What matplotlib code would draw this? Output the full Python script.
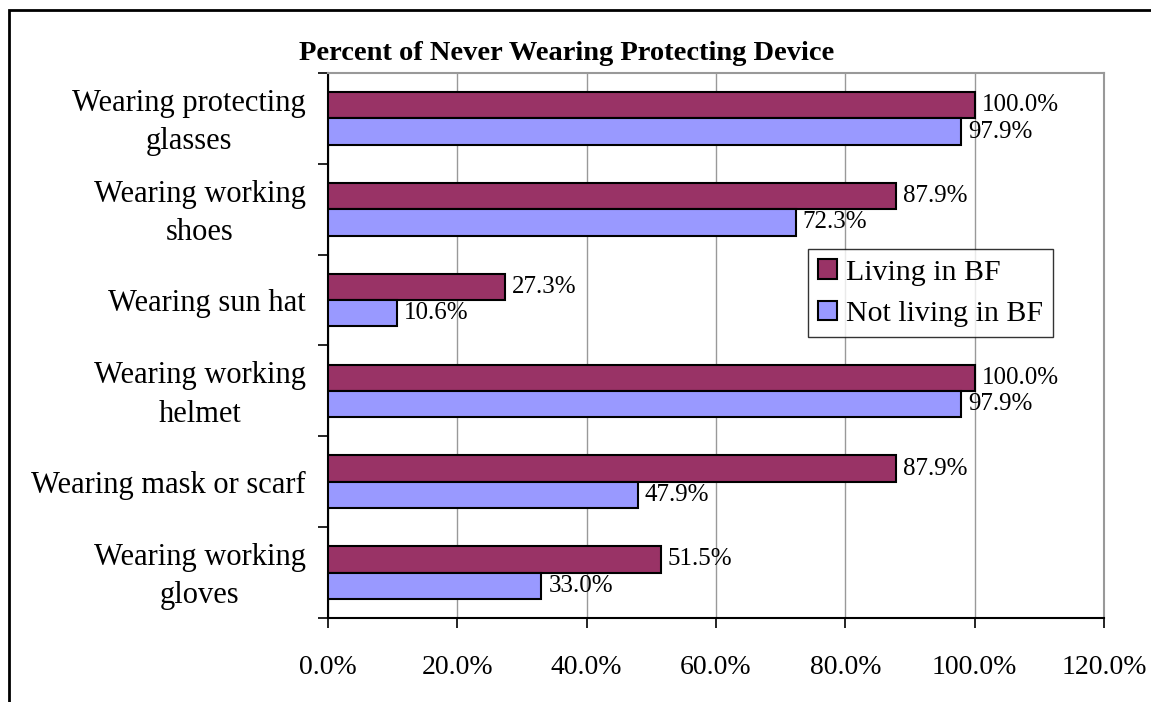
import numpy as np
import matplotlib
matplotlib.use("Agg")
import matplotlib.pyplot as plt
from matplotlib.patches import Rectangle
from matplotlib.transforms import ScaledTranslation

# categories listed bottom to top
categories = ["Wearing working\ngloves", "Wearing mask or scarf", "Wearing working\nhelmet",
              "Wearing sun hat", "Wearing working\nshoes", "Wearing protecting\nglasses"]
living_in_bf = [51.5, 87.9, 100.0, 27.3, 87.9, 100.0]
not_living_in_bf = [33.0, 47.9, 97.9, 10.6, 72.3, 97.9]
x_ticks = [0, 20, 40, 60, 80, 100, 120]

plt.rcParams['font.family'] = ['Liberation Serif', 'DejaVu Serif']

fig = plt.figure(figsize=(11.51, 7.02), dpi=100)
ax = fig.add_axes([328 / 1151, 1 - 618 / 702, (1104 - 328) / 1151, (618 - 73) / 702])

# outer chart frame (cropped on the right and bottom)
fig.patches.append(Rectangle((9 / 1151, -0.1), 1.2, 1 - 10 / 702 + 0.1, transform=fig.transFigure,
                             fill=False, edgecolor="black", linewidth=2))

r = np.arange(len(categories))
h = 0.29
b1 = ax.barh(r + h / 2, living_in_bf, height=h, color="#993366", edgecolor="black", linewidth=1.5,
             label="Living in BF", zorder=3)
b2 = ax.barh(r - h / 2, not_living_in_bf, height=h, color="#9999FF", edgecolor="black", linewidth=1.5,
             label="Not living in BF", zorder=3)

for bars, vals in [(b1, living_in_bf), (b2, not_living_in_bf)]:
    for bar, v in zip(bars, vals):
        ax.annotate(f"{v:.1f}%", (v, bar.get_y() + bar.get_height() / 2), xytext=(5, 0),
                    textcoords="offset points", va="center", ha="left", fontsize=18, zorder=4)

ax.set_xlim(0, 120)
ax.set_ylim(-0.5, 5.5)
ax.set_xticks(x_ticks)
ax.set_xticklabels([f"{t:.1f}%" for t in x_ticks], fontsize=20)
ax.set_yticks(np.arange(-0.5, 6, 1))
ax.set_yticklabels([])
ax.set_yticks(r, minor=True)
ax.set_yticklabels(categories, minor=True, fontsize=22, ha="right", multialignment="center",
                   linespacing=1.42)
ax.tick_params(axis="y", which="minor", length=0, pad=16)
ax.tick_params(axis="y", which="major", length=7, width=1.2, direction="out")
ax.tick_params(axis="x", length=7, width=1.2, direction="out", pad=20)
ax.xaxis.grid(True, color="#999999", linewidth=1, zorder=0)
ax.set_axisbelow(True)

# two-line labels sit a little higher in the original
for lab in ax.get_yticklabels(minor=True):
    if "\n" in lab.get_text():
        lab.set_transform(lab.get_transform() + ScaledTranslation(0, 4 / 100, fig.dpi_scale_trans))

for s in ["top", "right"]:
    ax.spines[s].set_color("#999999")
    ax.spines[s].set_linewidth(1.5)
for s in ["left", "bottom"]:
    ax.spines[s].set_color("black")
    ax.spines[s].set_linewidth(1.5)

fig.text(567 / 1151, 1 - 54 / 702, "Percent of Never Wearing Protecting Device", ha="center", va="center",
         fontsize=20.5, fontweight="bold")

leg = ax.legend(loc="upper left", bbox_to_anchor=((808 - 328) / (1104 - 328), 1 - (249 - 73) / (618 - 73)),
                fontsize=21.5, frameon=True, fancybox=False, edgecolor="black", handlelength=0.62,
                handleheight=0.62, handletextpad=0.3, borderpad=0.35, labelspacing=0.5, borderaxespad=0)
leg.get_frame().set_linewidth(1)
for p in leg.get_patches():
    p.set_linewidth(1.5)

plt.savefig("out.png", dpi=100)
